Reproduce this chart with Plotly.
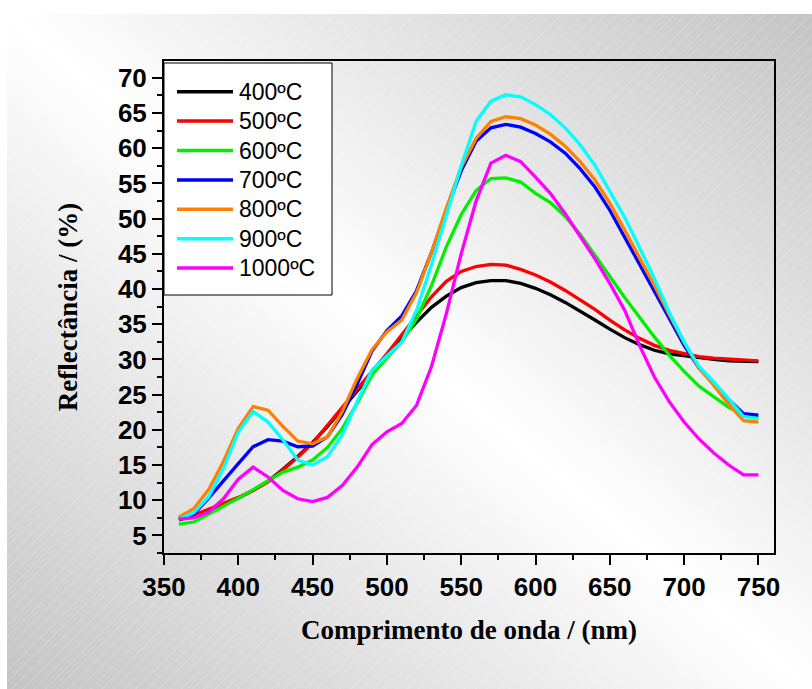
import base64
import plotly.graph_objects as go

wavelength = [360, 370, 380, 390, 400, 410, 420, 430, 440, 450,
              460, 470, 480, 490, 500, 510, 520, 530, 540, 550,
              560, 570, 580, 590, 600, 610, 620, 630, 640, 650,
              660, 670, 680, 690, 700, 710, 720, 730, 740, 750]

r400 = [7.2, 7.8, 8.6, 9.4, 10.3, 11.4, 12.7, 14.4, 16.2, 18.2,
        20.5, 23.0, 25.5, 28.0, 30.5, 33.0, 35.3, 37.4, 39.0, 40.2,
        40.9, 41.2, 41.2, 40.8, 40.1, 39.2, 38.1, 36.9, 35.6, 34.3,
        33.1, 32.1, 31.3, 30.8, 30.5, 30.2, 30.0, 29.8, 29.7, 29.7]
r500 = [7.3, 7.9, 8.7, 9.5, 10.4, 11.4, 12.6, 14.3, 16.1, 18.1,
        20.6, 23.2, 25.8, 28.3, 30.8, 33.5, 36.2, 38.9, 41.1, 42.5,
        43.2, 43.5, 43.4, 42.8, 42.0, 41.0, 39.8, 38.5, 37.1, 35.6,
        34.2, 33.0, 32.0, 31.3, 30.8, 30.4, 30.2, 30.1, 29.9, 29.8]
r600 = [6.6, 6.9, 8.0, 9.1, 10.3, 11.5, 12.7, 14.0, 14.7, 15.7,
        17.5, 20.2, 23.8, 27.8, 30.2, 32.5, 35.8, 40.5, 46.0, 50.6,
        54.0, 55.7, 55.8, 55.2, 53.6, 52.3, 50.3, 47.8, 44.8, 41.7,
        38.8, 36.0, 33.2, 30.6, 28.3, 26.2, 24.7, 23.2, 22.0, 21.7]
r700 = [7.3, 8.0, 10.3, 12.8, 15.2, 17.6, 18.6, 18.4, 17.6, 17.7,
        19.0, 22.2, 26.5, 31.2, 34.1, 36.2, 39.8, 45.2, 51.2, 56.8,
        61.0, 62.9, 63.4, 63.0, 62.1, 60.9, 59.3, 57.1, 54.5, 51.2,
        47.4, 43.6, 39.8, 35.8, 32.0, 28.8, 26.6, 24.3, 22.3, 22.1]
r800 = [7.6, 8.8, 11.5, 15.5, 20.2, 23.3, 22.8, 20.5, 18.4, 18.0,
        19.0, 22.6, 27.3, 31.4, 33.9, 35.6, 39.5, 45.2, 51.5, 57.3,
        61.4, 63.8, 64.5, 64.2, 63.3, 62.0, 60.3, 58.1, 55.5, 52.2,
        48.4, 44.5, 40.5, 36.4, 32.4, 28.8, 26.3, 23.6, 21.3, 21.1]
r900 = [7.3, 8.2, 10.5, 14.5, 19.7, 22.6, 21.1, 18.6, 15.7, 15.0,
        16.2, 19.3, 24.0, 28.5, 30.5, 32.5, 37.0, 43.5, 50.5, 57.5,
        63.8, 66.7, 67.6, 67.3, 66.2, 64.8, 62.9, 60.5, 57.6, 54.0,
        50.2, 45.9, 41.5, 36.7, 32.5, 29.0, 26.8, 24.4, 21.9, 21.6]
r1000 = [7.3, 7.5, 8.3, 10.2, 13.0, 14.7, 13.3, 11.4, 10.2, 9.8,
         10.4, 12.1, 14.7, 17.9, 19.7, 20.9, 23.5, 29.0, 36.5, 45.0,
         52.5, 57.9, 59.0, 58.1, 55.9, 53.6, 50.7, 47.6, 44.3, 40.8,
         37.0, 32.0, 27.5, 24.0, 21.1, 18.7, 16.7, 15.0, 13.6, 13.6]

series_names = ["400ºC", "500ºC", "600ºC", "700ºC", "800ºC", "900ºC", "1000ºC"]
series_values = [r400, r500, r600, r700, r800, r900, r1000]
series_colors = ["#000000", "#FF0000", "#00F000", "#0000FF", "#FF8000", "#00FFFF", "#FF00FF"]

x_ticks = [350, 400, 450, 500, 550, 600, 650, 700, 750]
y_ticks = [5, 10, 15, 20, 25, 30, 35, 40, 45, 50, 55, 60, 65, 70]

# background gradient (light along the TL-BR diagonal, grey at TR and BL corners)
svg = """<svg xmlns='http://www.w3.org/2000/svg' width='805' height='675' viewBox='0 0 805 675'>
<defs>
<linearGradient id='g' x1='0' y1='1' x2='1' y2='0'>
<stop offset='0' stop-color='#c4c4c4'/>
<stop offset='0.5' stop-color='#ffffff'/>
<stop offset='1' stop-color='#c4c4c4'/>
</linearGradient>
<pattern id='p' width='8' height='8' patternUnits='userSpaceOnUse' patternTransform='rotate(45)'>
<line x1='0' y1='0' x2='0' y2='8' stroke='#ffffff' stroke-width='1' stroke-opacity='0.35'/>
</pattern>
</defs>
<rect width='805' height='675' fill='url(#g)'/>
<rect width='805' height='675' fill='url(#p)'/>
</svg>"""
svg_uri = "data:image/svg+xml;base64," + base64.b64encode(svg.encode()).decode()

W, H = 812, 689
ml, mr, mt, mb = 164, 38, 61, 136
pw, ph = W - ml - mr, H - mt - mb


def px_x(p):
    return (p - ml) / pw


def px_y(p):
    return (H - mb - p) / ph


fig = go.Figure()
for name, vals, col in zip(series_names, series_values, series_colors):
    fig.add_trace(go.Scatter(x=wavelength, y=vals, mode="lines", name=name,
                             line=dict(color=col, width=3.3), showlegend=False))

bg_x0, bg_y0 = 7, 14
fig.add_layout_image(dict(
    source=svg_uri, xref="paper", yref="paper",
    x=(bg_x0 - ml) / pw, y=(H - mb - bg_y0) / ph,
    sizex=(W - bg_x0) / pw, sizey=(H - bg_y0) / ph,
    xanchor="left", yanchor="top", sizing="stretch", layer="below"))

# legend box (drawn in paper space)
fig.add_shape(type="rect", xref="paper", yref="paper",
              x0=px_x(164), x1=px_x(332), y0=px_y(295), y1=px_y(63),
              fillcolor="white", line=dict(color="black", width=1), layer="above")
for i, (name, col) in enumerate(zip(series_names, series_colors)):
    yy = px_y(91.7 + i * 29.4)
    fig.add_shape(type="line", xref="paper", yref="paper",
                  x0=px_x(177), x1=px_x(233), y0=yy, y1=yy,
                  line=dict(color=col, width=3.5), layer="above")
    fig.add_annotation(xref="paper", yref="paper", x=px_x(237), y=yy,
                       xanchor="left", yanchor="middle", showarrow=False,
                       text=name, font=dict(family="Liberation Sans, Arial", size=23, color="black"))

tickfont = dict(family="Liberation Sans, Arial", size=26, color="black", weight="bold")
titlefont = dict(family="Liberation Serif, Times New Roman", size=27, color="black", weight="bold")

fig.update_layout(
    width=W, height=H,
    margin=dict(l=ml, r=mr, t=mt, b=mb),
    paper_bgcolor="white",
    plot_bgcolor="rgba(0,0,0,0)",
    showlegend=False,
    xaxis=dict(range=[350, 760.5], tickmode="array", tickvals=x_ticks,
               ticks="outside", ticklen=10, tickwidth=2, tickcolor="black",
               minor=dict(ticks="outside", ticklen=5, tickwidth=2, tickcolor="black", dtick=25, tick0=350),
               showline=True, linecolor="black", linewidth=2, mirror=True,
               showgrid=False, zeroline=False, tickfont=tickfont,
               title=dict(text="Comprimento de onda / (nm)", font=titlefont, standoff=19)),
    yaxis=dict(range=[2.5, 72.4], tickmode="array", tickvals=y_ticks,
               ticks="outside", ticklen=10, tickwidth=2, tickcolor="black",
               minor=dict(ticks="outside", ticklen=5, tickwidth=2, tickcolor="black", dtick=2.5, tick0=0),
               showline=True, linecolor="black", linewidth=2, mirror=True,
               showgrid=False, zeroline=False, tickfont=tickfont,
               title=dict(text="Reflectância / (%)", font=titlefont, standoff=32)),
)

fig.write_html("out.html")
